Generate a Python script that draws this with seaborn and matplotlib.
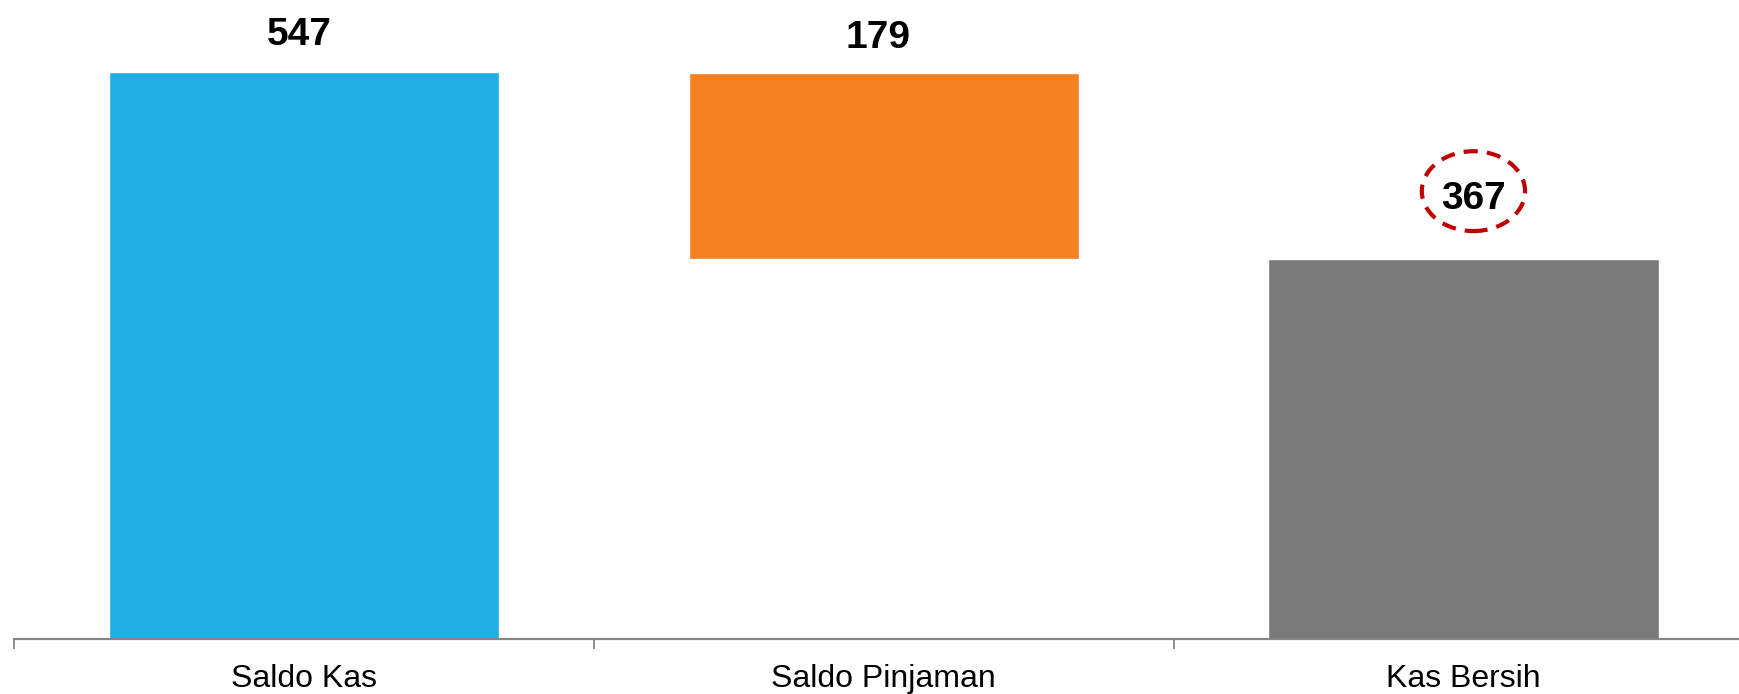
import matplotlib
matplotlib.use('Agg')
import matplotlib.pyplot as plt
from matplotlib.patches import Ellipse
import seaborn as sns

categories = ['Saldo Kas', 'Saldo Pinjaman', 'Kas Bersih']
values = [547, 179, 367]
bar_colors = ['#1FADE4', '#F68121', '#7A7A7A']

# waterfall: pinjaman bar floats from kas bersih up to saldo kas
tops = [values[0], values[2] + values[1], values[2]]
bases = [0, values[2], 0]

sns.set_style('white')
plt.rcParams['font.family'] = ['Liberation Sans', 'DejaVu Sans']

fig = plt.figure(figsize=(17.39, 6.94), dpi=100)
ax = fig.add_axes([14 / 1739, 55 / 694, 1 - 14 / 1739, 639 / 694])

sns.barplot(x=categories, y=tops, hue=categories, palette=bar_colors,
            legend=False, width=0.673, saturation=1, ax=ax)
sns.barplot(x=categories, y=bases, color='white', width=0.7,
            saturation=1, ax=ax)

label_y = [tops[0] + 36, tops[1] + 34, tops[2] + 57]
label_x = [-0.008, 0.99, 2.017]
for i, v in enumerate(values):
    ax.text(label_x[i], label_y[i], str(v), ha='center', va='center',
            fontsize=28, fontweight='bold', color='black', clip_on=False)

ax.add_patch(Ellipse((2.017, 432), 0.178, 77, fill=False,
                     edgecolor='#C00000', linewidth=3,
                     linestyle=(0, (3.4, 2.2)), clip_on=False))

for s in ['top', 'right', 'left']:
    ax.spines[s].set_visible(False)
ax.spines['bottom'].set_color('#868686')
ax.spines['bottom'].set_linewidth(1.6)

ax.set_yticks([])
ax.set_xticks(range(len(categories)))
ax.set_xticklabels(categories, fontsize=23, color='black')
ax.tick_params(axis='x', which='major', length=0, pad=18)
ax.set_xticks([-0.5, 0.5, 1.5], minor=True)
ax.tick_params(axis='x', which='minor', bottom=True, length=7, width=1.3,
               color='#868686', direction='out')
ax.set_xlabel('')
ax.set_ylabel('')

# limits last, set_xticks can widen them
ax.set_ylim(0, 616.4)
ax.set_xlim(-0.5, 2.475)

fig.savefig('out.png', dpi=100)
